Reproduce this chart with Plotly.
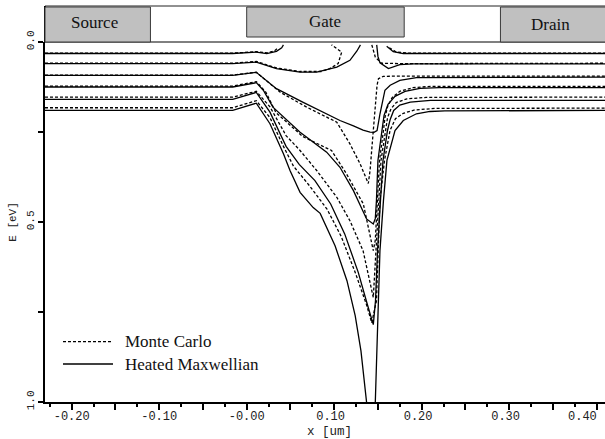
import plotly.graph_objects as go

# ---------------- axes / labels ----------------
X_RANGE = [-0.2305, 0.4095]
Y_RANGE = [1.0, 0.0]
X_TICK_VALS = [-0.20, -0.15, -0.10, -0.05, 0.00, 0.05, 0.10, 0.15, 0.20, 0.25, 0.30, 0.35, 0.40]
X_TICK_TEXT = ["-0.20", "", "-0.10", "", "-0.00", "", "0.10\u00a0", "", "0.20\u00a0", "", "0.30\u00a0", "", ""]
X_EDGE_LABEL = "0.40"          # last tick label, drawn right-aligned at the edge
Y_TICK_VALS = [0.0, 0.25, 0.5, 0.75, 1.0]
Y_TICK_TEXT = ["0.0", "", "0.5", "", "1.0"]
X_TITLE = "x [um]"
Y_TITLE = "E [eV]"

# device regions (x in um)
REGION_NAMES = ["Source", "Gate", "Drain"]
REGION_X0 = [-0.2305, 0.0, 0.29]
REGION_X1 = [-0.11, 0.18, 0.4095]

LEGEND_NAMES = ["Monte Carlo", "Heated Maxwellian"]

# ---------------- contour data (x [um], E [eV]) ----------------
# Heated Maxwellian (solid)
HM_1_SRC = [(-0.2305, 0.032), (-0.016, 0.032), (0.011, 0.028), (0.023, 0.032), (0.034, 0.026), (0.040, 0.016), (0.042, 0.008)]
HM_1_DRN = [(0.160, 0.012), (0.1675, 0.027), (0.179, 0.032), (0.4095, 0.032)]
HM_2_SRC = [(-0.2305, 0.060), (-0.016, 0.060), (0.011, 0.056), (0.034, 0.074), (0.061, 0.0835), (0.080, 0.0835),
            (0.103, 0.070), (0.118, 0.051), (0.126, 0.025), (0.130, 0.008)]
HM_2_DRN = [(0.1486, 0.008), (0.150, 0.040), (0.1523, 0.058), (0.162, 0.074), (0.175, 0.063), (0.19, 0.061), (0.4095, 0.061)]
HM_3 = [(-0.2305, 0.0927), (-0.016, 0.0927), (0.011, 0.0843), (0.034, 0.1297), (0.064, 0.167), (0.095, 0.204),
        (0.1066, 0.218), (0.122, 0.233), (0.133, 0.245), (0.141, 0.2505), (0.1455, 0.251), (0.149, 0.246),
        (0.1523, 0.200), (0.158, 0.134), (0.164, 0.120), (0.175, 0.1066), (0.194, 0.099), (0.4095, 0.0974)]
HM_4 = [(-0.2305, 0.125), (-0.016, 0.125), (0.011, 0.113), (0.019, 0.134), (0.030, 0.181), (0.061, 0.2505),
        (0.0914, 0.306), (0.1066, 0.348), (0.122, 0.4128), (0.137, 0.4915), (0.1447, 0.5054), (0.147, 0.49),
        (0.1483, 0.4406), (0.150, 0.329), (0.1546, 0.2458), (0.157, 0.204), (0.1615, 0.173), (0.1695, 0.151),
        (0.181, 0.137), (0.198, 0.129), (0.22, 0.127), (0.4095, 0.127)]
HM_5 = [(-0.2305, 0.1595), (-0.016, 0.1595), (0.011, 0.140), (0.0266, 0.195), (0.045, 0.29), (0.06, 0.34),
        (0.078, 0.385), (0.096, 0.45), (0.112, 0.533), (0.1275, 0.64), (0.138, 0.73), (0.1447, 0.785),
        (0.1472, 0.719), (0.1495, 0.5797), (0.1529, 0.4406), (0.1558, 0.329), (0.1609, 0.2458), (0.164, 0.215),
        (0.168, 0.19), (0.175, 0.175), (0.187, 0.167), (0.21, 0.162), (0.4095, 0.162)]
HM_6_SRC = [(-0.2305, 0.190), (-0.016, 0.190), (0.011, 0.170), (0.0266, 0.227), (0.042, 0.3106), (0.0495, 0.357),
            (0.061, 0.4175), (0.076, 0.46), (0.084, 0.476), (0.101, 0.566), (0.1146, 0.663), (0.124, 0.76),
            (0.1306, 0.858), (0.137, 1.0)]
HM_6_DRN = [(0.147, 1.0), (0.1495, 0.7885), (0.1506, 0.719), (0.1523, 0.5797), (0.1563, 0.4406), (0.1603, 0.329),
            (0.1695, 0.2458), (0.179, 0.218), (0.194, 0.1993), (0.2095, 0.193), (0.2266, 0.1915), (0.4095, 0.190)]

# Monte Carlo (dashed)
MC_1_SRC = [(-0.2305, 0.031), (-0.016, 0.031), (0.011, 0.027), (0.024, 0.030), (0.032, 0.024), (0.036, 0.016)]
MC_1_DRN = [(0.163, 0.016), (0.171, 0.028), (0.185, 0.031), (0.4095, 0.031)]
MC_2_SRC = [(-0.2305, 0.059), (-0.016, 0.059), (0.011, 0.054), (0.034, 0.072), (0.061, 0.082), (0.085, 0.082),
            (0.095, 0.074), (0.1045, 0.060), (0.1086, 0.028), (0.097, 0.008)]
MC_2_DRN = [(0.143, 0.008), (0.147, 0.042), (0.154, 0.059), (0.175, 0.060), (0.4095, 0.059)]
MC_3 = [(-0.2305, 0.0918), (-0.016, 0.0918), (0.011, 0.084), (0.038, 0.139), (0.0686, 0.181), (0.103, 0.2227),
        (0.118, 0.283), (0.1295, 0.338), (0.139, 0.393), (0.141, 0.357), (0.1447, 0.2458), (0.1478, 0.153),
        (0.149, 0.120), (0.1506, 0.102), (0.156, 0.0955), (0.175, 0.0946), (0.4095, 0.0946)]
MC_4 = [(-0.2305, 0.1225), (-0.016, 0.1225), (0.011, 0.110), (0.022, 0.140), (0.0335, 0.196), (0.064, 0.2625),
        (0.097, 0.3014), (0.114, 0.366), (0.1333, 0.4498), (0.1447, 0.5797), (0.147, 0.55), (0.1495, 0.4406),
        (0.1518, 0.329), (0.1563, 0.2458), (0.158, 0.21), (0.161, 0.18), (0.166, 0.155), (0.175, 0.137),
        (0.19, 0.127), (0.21, 0.1233), (0.4095, 0.1233)]
MC_5 = [(-0.2305, 0.153), (-0.016, 0.153), (0.011, 0.137), (0.0266, 0.18), (0.045, 0.26), (0.061, 0.3014),
        (0.080, 0.357), (0.103, 0.4314), (0.118, 0.4965), (0.133, 0.5797), (0.1447, 0.7097), (0.148, 0.5797),
        (0.151, 0.4406), (0.1535, 0.329), (0.1586, 0.2458), (0.161, 0.21), (0.165, 0.185), (0.171, 0.168),
        (0.183, 0.158), (0.205, 0.154), (0.4095, 0.153)]
MC_6 = [(-0.2305, 0.1827), (-0.016, 0.1827), (0.011, 0.163), (0.0266, 0.21), (0.042, 0.29), (0.0535, 0.345),
        (0.072, 0.40), (0.092, 0.465), (0.108, 0.54), (0.124, 0.64), (0.137, 0.73), (0.1429, 0.78),
        (0.1483, 0.719), (0.1506, 0.5797), (0.1523, 0.4406), (0.1575, 0.329), (0.1638, 0.2458), (0.170, 0.213),
        (0.179, 0.198), (0.192, 0.1887), (0.215, 0.1845), (0.4095, 0.1837)]

HM_CONTOURS = [HM_1_SRC, HM_1_DRN, HM_2_SRC, HM_2_DRN, HM_3, HM_4, HM_5, HM_6_SRC, HM_6_DRN]
MC_CONTOURS = [MC_1_SRC, MC_1_DRN, MC_2_SRC, MC_2_DRN, MC_3, MC_4, MC_5, MC_6]

SERIF = "Liberation Serif, Times New Roman, serif"
MONO = "Liberation Mono, Courier New, monospace"

fig = go.Figure()


def add_contours(contours, dash, name):
    for seg in contours:
        fig.add_trace(go.Scatter(
            x=[p[0] for p in seg], y=[p[1] for p in seg], mode="lines",
            line=dict(color="black", width=1.3, dash=dash),
            name=name, legendgroup=name, showlegend=False, hoverinfo="skip"))


add_contours(MC_CONTOURS, "3px,2px", LEGEND_NAMES[0])
add_contours(HM_CONTOURS, "solid", LEGEND_NAMES[1])

# plot geometry (pixels)
W, H = 605, 439
ML, MR, MT, MB = 45, 0, 42, 37
PW, PH = W - ML - MR, H - MT - MB


def xp(x):
    return (x - X_RANGE[0]) / (X_RANGE[1] - X_RANGE[0])


def yp_px(py):  # pixel row -> paper y
    return (H - MB - py) / PH


def xp_px(px):
    return (px - ML) / PW


shapes = []
# header frame
shapes.append(dict(type="line", xref="paper", yref="paper", x0=0, x1=1.02, y0=yp_px(6), y1=yp_px(6),
                   line=dict(color="#222", width=1)))
shapes.append(dict(type="line", xref="paper", yref="paper", x0=0, x1=0, y0=1, y1=yp_px(6),
                   line=dict(color="black", width=2)))
shapes.append(dict(type="line", xref="paper", yref="paper", x0=0, x1=1.02, y0=1, y1=1,
                   line=dict(color="black", width=1)))
box_bottom = [yp_px(42), yp_px(37), yp_px(42)]
label_y = [yp_px(23), yp_px(21.5), yp_px(25)]
label_cx = [xp_px(94.5), xp_px(325.0), xp_px(550.5)]
annotations = []
for name, x0, x1, yb, ly, cx in zip(REGION_NAMES, REGION_X0, REGION_X1, box_bottom, label_y, label_cx):
    x1p = xp(x1) if x1 < X_RANGE[1] else 1.02
    shapes.append(dict(type="rect", xref="paper", yref="paper", x0=xp(x0), x1=x1p, y0=yb, y1=yp_px(7),
                       fillcolor="#c0c0c0", line=dict(color="#3a3a3a", width=1), layer="above"))
    annotations.append(dict(xref="paper", yref="paper", x=cx, y=ly, text=name, showarrow=False,
                            font=dict(family=SERIF, size=17, color="#111"),
                            xanchor="center", yanchor="middle"))

# legend (inside plot, drawn as samples + text)
for name, py, dash in zip(LEGEND_NAMES, [341.7, 364.0], ["3px,2px", "solid"]):
    shapes.append(dict(type="line", xref="paper", yref="paper", x0=xp_px(63), x1=xp_px(113),
                       y0=yp_px(py), y1=yp_px(py), line=dict(color="black", width=1.3, dash=dash)))
    annotations.append(dict(xref="paper", yref="paper", x=xp_px(123), y=yp_px(py), text=name,
                            showarrow=False, xanchor="left", yanchor="middle",
                            font=dict(family=SERIF, size=17, color="#111")))

# last x tick label, kept inside the page edge
annotations.append(dict(xref="paper", yref="paper", x=xp_px(599), y=yp_px(416.5), text=X_EDGE_LABEL,
                        showarrow=False, xanchor="right", yanchor="middle",
                        font=dict(family=MONO, size=12, color="#222")))
# x axis title (placed just below the tick labels)
annotations.append(dict(xref="paper", yref="paper", x=xp_px(329.5), y=yp_px(440.5), text=X_TITLE,
                        showarrow=False, xanchor="center", yanchor="bottom",
                        font=dict(family=MONO, size=12.5, color="#222")))

fig.update_layout(
    width=W, height=H, margin=dict(l=ML, r=MR, t=MT, b=MB, autoexpand=False),
    paper_bgcolor="white", plot_bgcolor="white", showlegend=False,
    shapes=shapes, annotations=annotations,
    xaxis=dict(range=X_RANGE, automargin=False, showgrid=False, zeroline=False, showline=True,
               linecolor="black", linewidth=2,
               ticks="outside", ticklen=6, tickwidth=1.5, tickcolor="black",
               tickvals=X_TICK_VALS, ticktext=X_TICK_TEXT, ticklabeloverflow="allow",
               ticklabelstandoff=-4,
               tickfont=dict(family=MONO, size=12, color="#222"),
               minor=dict(dtick=0.025, tick0=0, ticks="outside", ticklen=3, tickwidth=1.5, tickcolor="black")),
    yaxis=dict(range=Y_RANGE, automargin=False, showgrid=False, zeroline=False, showline=True,
               linecolor="black", linewidth=2,
               ticks="outside", ticklen=5, tickwidth=1.5, tickcolor="black",
               tickvals=Y_TICK_VALS, ticktext=Y_TICK_TEXT, tickangle=-90,
               tickfont=dict(family=MONO, size=11, color="#222"),
               title=dict(text=Y_TITLE, font=dict(family=MONO, size=11, color="#222"), standoff=6)),
)

fig.write_html("out.html", config={"displayModeBar": False},
               post_script="document.body.style.margin='0';document.body.style.overflow='hidden';")
